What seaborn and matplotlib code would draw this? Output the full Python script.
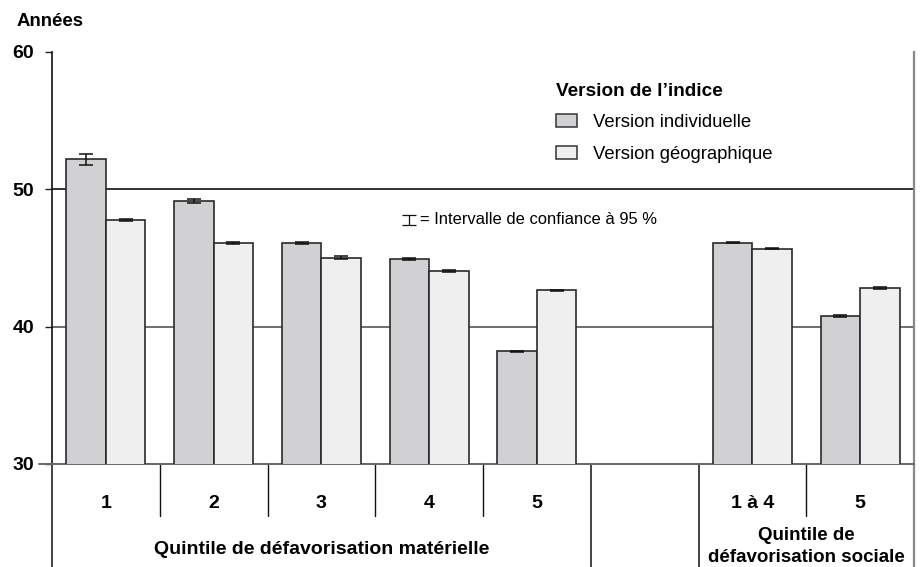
import pandas as pd
import numpy as np
import matplotlib.pyplot as plt
import matplotlib.patches as mpatches
import seaborn as sns

# values
slots = ["m1", "m2", "m3", "m4", "m5", "gap", "s14", "s5"]
slot_labels = ["1", "2", "3", "4", "5", "", "1 à 4", "5"]
groups = ["m1", "m2", "m3", "m4", "m5", "s14", "s5"]
individuelle = [52.2, 49.15, 46.07, 44.95, 38.2, 46.12, 40.78]
geographique = [47.8, 46.1, 45.03, 44.08, 42.65, 45.68, 42.82]
err_ind = [0.4, 0.18, 0.08, 0.08, 0.06, 0.06, 0.08]
err_geo = [0.07, 0.07, 0.08, 0.08, 0.05, 0.05, 0.06]
versions = ["Version individuelle", "Version géographique"]

df = pd.DataFrame({
    "groupe": groups * 2,
    "version": [versions[0]] * len(groups) + [versions[1]] * len(groups),
    "annees": individuelle + geographique,
    "err": err_ind + err_geo,
})

sns.set_style("white")
plt.rcParams['font.family'] = ['Liberation Sans', 'DejaVu Sans']
plt.rcParams['text.color'] = 'black'
plt.rcParams['ytick.color'] = 'black'

col_ind = "#d1d1d3"
col_geo = "#eeefee"

fig = plt.figure(figsize=(9.22, 5.67), dpi=100)
ax = fig.add_axes([52 / 922, (567 - 464) / 567, 862 / 922, 412 / 567])

sns.barplot(data=df, x="groupe", y="annees", hue="version", order=slots,
            hue_order=versions, palette=[col_ind, col_geo], width=0.733,
            errorbar=None, edgecolor="#2a2a2a", linewidth=1.2, legend=False,
            ax=ax, zorder=3)

# error bars on each bar, matched to the slot under the bar centre
for k, hv in enumerate(versions):
    sub = df[df.version == hv].set_index("groupe")
    for p in ax.containers[k].patches:
        if np.isnan(p.get_height()):
            continue
        xc = p.get_x() + p.get_width() / 2
        g = slots[int(round(xc))]
        if g not in sub.index:
            continue
        ax.errorbar(xc, sub.loc[g, "annees"], yerr=sub.loc[g, "err"], fmt="none",
                    ecolor="#111111", elinewidth=1.1, capsize=5, capthick=1.1, zorder=4)

ax.set_ylim(30, 60)
ax.set_xlim(-0.5, 7.5)
ax.set_yticks([30, 40, 50, 60])
ax.set_yticklabels(["30", "40", "50", "60"], fontsize=14, fontweight="bold")
ax.tick_params(axis="y", length=5, width=1, color="#222222", pad=8, left=True)
ax.set_xticks([])
ax.set_xlabel("")
ax.set_ylabel("")

# horizontal reference lines
ax.axhline(50, color="#111111", lw=1.2, zorder=1)
ax.axhline(40, color="#555555", lw=1.2, zorder=1)

ax.spines["top"].set_visible(False)
ax.spines["left"].set_color("#111111")
ax.spines["left"].set_linewidth(1.2)
ax.spines["bottom"].set_color("#666666")
ax.spines["bottom"].set_linewidth(1.4)
ax.spines["right"].set_color("#888888")
ax.spines["right"].set_linewidth(1.6)

# category table below the axis
tr = ax.get_xaxis_transform()
for x in [-0.5, 4.5, 5.5]:
    ax.plot([x, x], [0, -0.26], transform=tr, color="#111111", lw=1.1, clip_on=False)
ax.plot([7.5, 7.5], [0, -0.26], transform=tr, color="#888888", lw=1.6, clip_on=False)
for x in [0.5, 1.5, 2.5, 3.5, 6.5]:
    ax.plot([x, x], [0, -0.125], transform=tr, color="#111111", lw=1.0, clip_on=False)
ax.plot([-0.62, -0.5], [0, 0], transform=tr, color="#666666", lw=1.4, clip_on=False)

for i, lab in enumerate(slot_labels):
    if lab:
        ax.text(i, -0.095, lab, transform=tr, ha="center", va="center",
                fontsize=14, fontweight="bold")
ax.text(2, -0.207, "Quintile de défavorisation matérielle", transform=tr,
        ha="center", va="center", fontsize=14, fontweight="bold")
ax.text(6.5, -0.173, "Quintile de", transform=tr,
        ha="center", va="center", fontsize=13.5, fontweight="bold")
ax.text(6.5, -0.226, "défavorisation sociale", transform=tr,
        ha="center", va="center", fontsize=13.5, fontweight="bold")

fig.text(17 / 922, 1 - 22 / 567, "Années", ha="left", va="center",
         fontsize=13.4, fontweight="bold")

# legend: title as its own text, entries below
ax.text((556 - 52) / 862, (464 - 92) / 412, "Version de l\u2019indice", transform=ax.transAxes,
        ha="left", va="center", fontsize=13.7, fontweight="bold")
handles = [mpatches.Patch(facecolor=col_ind, edgecolor="#333333", lw=1.1),
           mpatches.Patch(facecolor=col_geo, edgecolor="#333333", lw=1.1)]
ax.legend(handles, versions, loc="upper left",
          bbox_to_anchor=((556 - 52) / 862, (464 - 114) / 412), frameon=False,
          fontsize=13.3, handlelength=1.14, handleheight=0.7, handletextpad=0.85,
          labelspacing=0.82, borderpad=0, borderaxespad=0)

# confidence interval note
ax.errorbar([(409 - 52) / 862], [(464 - 220) / 412], yerr=[0.013], fmt="none",
            ecolor="#111111", elinewidth=0.9, capsize=5, capthick=0.9,
            transform=ax.transAxes, clip_on=False)
ax.text((420 - 52) / 862, (464 - 220) / 412, "= Intervalle de confiance à 95 %",
        transform=ax.transAxes, ha="left", va="center", fontsize=11.9)

fig.savefig("out.png", dpi=100)
